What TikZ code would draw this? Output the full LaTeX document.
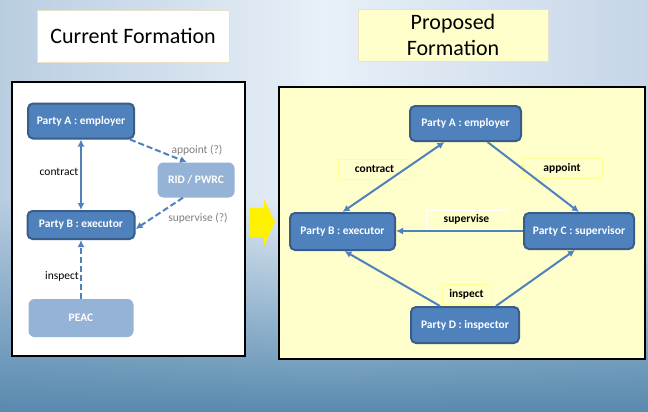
\documentclass[tikz,border=0pt]{standalone}
\usepackage{fontspec}
\setmainfont{Carlito}
\usetikzlibrary{arrows.meta,fadings}
\definecolor{nodeblue}{RGB}{79,129,189}
\definecolor{nodeedge}{RGB}{56,93,138}
\definecolor{lightnode}{RGB}{149,179,215}
\definecolor{paleyellow}{RGB}{255,255,204}
\definecolor{labeledge}{RGB}{255,255,150}
\definecolor{titleedge}{RGB}{235,225,200}
\definecolor{greytext}{RGB}{128,128,128}
\definecolor{bgL}{RGB}{105,145,182}
\definecolor{bgLM}{RGB}{185,205,225}
\definecolor{bgM}{RGB}{232,240,248}
\definecolor{bgRM}{RGB}{198,214,232}
\definecolor{bgR}{RGB}{118,158,195}
\definecolor{bgB}{RGB}{88,138,175}
\pgfdeclarehorizontalshading{bgshade}{100bp}{color(0bp)=(bgL); color(25bp)=(bgLM); color(50bp)=(bgM); color(75bp)=(bgRM); color(100bp)=(bgR)}
\tikzset{
  party/.style={draw=nodeedge, line width=2pt, fill=nodeblue, rounded corners=5pt,
    text=white, font=\bfseries\fontsize{11.5}{13}\selectfont, inner sep=0pt},
  pale/.style={fill=lightnode, rounded corners=6pt, text=white,
    font=\bfseries\fontsize{11.5}{13}\selectfont, inner sep=0pt},
  conn/.style={draw=nodeblue, line width=2pt, -{Latex[length=7pt,width=7pt]}},
  dconn/.style={conn, dash pattern=on 6pt off 3pt},
  leftlbl/.style={font=\fontsize{11.5}{13}\selectfont, text=black},
  greylbl/.style={font=\fontsize{11.5}{13}\selectfont, text=greytext},
  lblbox/.style={draw=labeledge, line width=1pt, fill=paleyellow, inner sep=0pt,
    font=\bfseries\fontsize{11.5}{13}\selectfont, text=black},
  titlebox/.style={line width=0.8pt, inner sep=0pt, align=center,
    font=\fontsize{22}{26}\selectfont, text=black}
}
\begin{document}
\begin{tikzpicture}[x=1pt,y=-1pt]
\useasboundingbox (0,0) rectangle (648,412);
% background
\shade[shading=bgshade] (0,0) rectangle (648,412);
\fill[bgB, path fading=north] (0,200) rectangle (648,412);
% titles
\node[titlebox, draw=titleedge, fill=white, minimum width=192pt, minimum height=52pt] (t1) at (133,36) {Current Formation};
\node[titlebox, draw=titleedge, fill=paleyellow, minimum width=190pt, minimum height=52pt] (t2) at (453,35) {Proposed\\Formation};
% panels
\draw[line width=1.5pt, fill=white] (12,82) rectangle (245,356);
\draw[line width=1.5pt, fill=paleyellow] (279,87) rectangle (645,359);
% yellow arrow
\fill[yellow] (250,208) -- (264,208) -- (264,199) -- (275,222) -- (264,246) -- (264,237) -- (250,237) -- cycle;
% left diagram
\node[party, minimum width=106pt, minimum height=35pt] (LA) at (81,121) {Party A : employer};
\node[party, minimum width=107pt, minimum height=28pt] (LB) at (81,225) {Party B : executor};
\node[pale, minimum width=77pt, minimum height=35pt] (RID) at (196,180) {RID / PWRC};
\node[pale, minimum width=105pt, minimum height=38pt] (PEAC) at (81,318) {PEAC};
\draw[conn, {Latex[length=7pt,width=7pt]}-{Latex[length=7pt,width=7pt]}] (LA) -- (LB);
\draw[dconn] ([xshift=-5pt]LA.south east) -- ([xshift=-9pt]RID.north);
\draw[dconn] ([xshift=-13pt]RID.south) -- ([yshift=-4pt]LB.east);
\draw[dconn, line width=2.5pt] (PEAC.north) -- (LB.south);
\node[leftlbl] (lc) at (59,172) {contract};
\node[greylbl] (la) at (197,150) {appoint (?)};
\node[greylbl] (ls) at (198,218) {supervise (?)};
\node[leftlbl] (li) at (62,276) {inspect};
% right diagram
\node[party, minimum width=111pt, minimum height=35pt] (RA) at (465.5,123.5) {Party A : employer};
\node[party, minimum width=105pt, minimum height=37pt] (RB) at (342.5,231.5) {Party B : executor};
\node[party, minimum width=110pt, minimum height=36pt] (RC) at (579,231) {Party C : supervisor};
\node[party, minimum width=108pt, minimum height=36pt] (RD) at (465,325) {Party D : inspector};
\node[lblbox, minimum width=73pt, minimum height=20pt] (bc) at (374.5,169) {contract};
\node[lblbox, minimum width=80pt, minimum height=20pt] (ba) at (562,168) {appoint};
\node[lblbox, draw=white, minimum width=81pt, minimum height=19pt] (bs) at (466.5,219.5) {supervise};
\node[lblbox, minimum width=49pt, minimum height=20pt] (bi) at (466.5,294) {inspect};
\draw[conn, {Latex[length=7pt,width=7pt]}-{Latex[length=7pt,width=7pt]}] ([xshift=-21pt]RA.south) -- (RB.north);
\draw[conn] ([xshift=22pt]RA.south) -- (RC.north);
\draw[conn] (RC.west) -- (RC.west -| RB.east);
\draw[conn] ([xshift=-25pt]RD.north) -- ([xshift=2pt]RB.south);
\draw[conn] ([xshift=31pt]RD.north) -- ([xshift=-4pt]RC.south);
\end{tikzpicture}
\end{document}
